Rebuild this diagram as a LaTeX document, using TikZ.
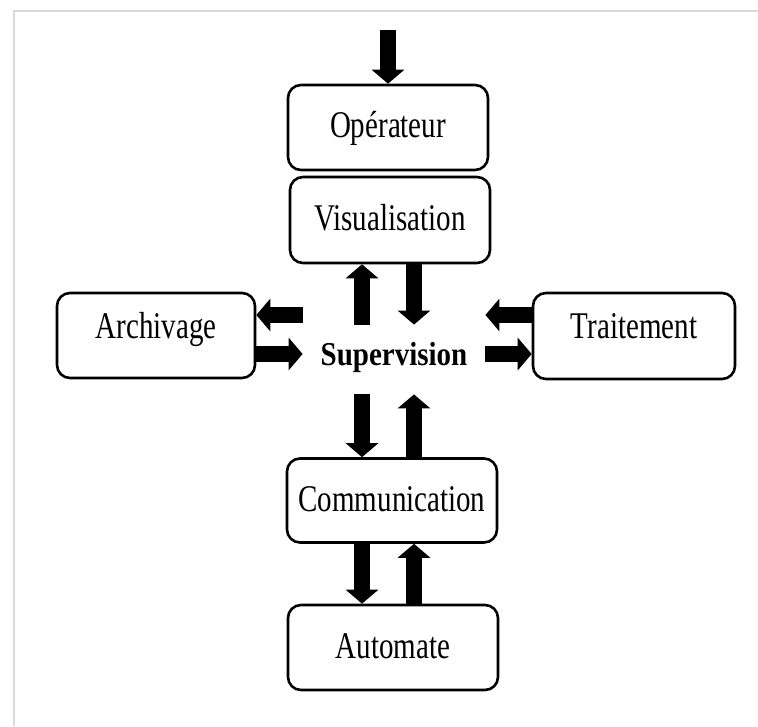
\documentclass[tikz,border=0pt]{standalone}
\usepackage{fontspec}
\setmainfont{Liberation Serif}
\usetikzlibrary{arrows.meta}
\newcommand{\tallText}[2][1.3]{\scalebox{1}[#1]{#2}}

\begin{document}
\begin{tikzpicture}[x=0.5pt, y=-0.5pt,
    box/.style={rectangle, rounded corners=6.5pt, draw, line width=1.3pt,
                minimum width=100pt, minimum height=42.5pt, inner sep=0pt,
                text height=10.5pt, text depth=0pt, font=\fontsize{14.5}{17}\selectfont},
    sidebox/.style={box, text depth=8pt},
    flow/.style={line width=8pt, -{Triangle[width=16pt, length=7pt]}},
]
\useasboundingbox (0,0) rectangle (758,726);
\draw[gray!30, line width=1pt] (14,726) -- (14,11) -- (758,11);

% Boxes
\node[box] (oper) at (388,127.5) {\tallText{Opérateur}};
\node[box, minimum height=43pt] (visu) at (390,220) {\tallText{Visualisation}};
\node[sidebox, minimum width=99pt] (arch) at (156,335.5) {\tallText{Archivage}};
\node[sidebox, minimum width=101pt, minimum height=43pt] (trait) at (634,336) {\tallText{Traitement}};
\node[box, minimum width=105pt, minimum height=42pt] (comm) at (392,500.5) {\tallText{Communication}};
\node[box, minimum width=105pt] (auto) at (393,647.5) {\tallText{Automate}};
\node[inner sep=0pt, minimum width=91pt, text height=20pt, text depth=14.5pt,
      font=\fontsize{14.5}{17}\selectfont\bfseries] (superv) at (394,359.5) {\tallText[1.15]{Supervision}};

% Arrow lanes
\coordinate (top) at (0,30);
\coordinate (xl) at (362,0);
\coordinate (xr) at (414,0);
\coordinate (yt) at (0,315);
\coordinate (yb) at (0,354);

\draw[flow] (oper.north |- top) -- (oper.north);
\draw[flow] (xl |- superv.north) -- (xl |- visu.south);
\draw[flow] (xr |- visu.south) -- (xr |- superv.north);
\draw[flow] (superv.west |- yt) -- (arch.east |- yt);
\draw[flow] (arch.east |- yb) -- (superv.west |- yb);
\draw[flow] (trait.west |- yt) -- (superv.east |- yt);
\draw[flow] (superv.east |- yb) -- (trait.west |- yb);
\draw[flow] (xl |- superv.south) -- (xl |- comm.north);
\draw[flow] (xr |- comm.north) -- (xr |- superv.south);
\draw[flow] (xl |- comm.south) -- (xl |- auto.north);
\draw[flow] (xr |- auto.north) -- (xr |- comm.south);
\end{tikzpicture}
\end{document}
